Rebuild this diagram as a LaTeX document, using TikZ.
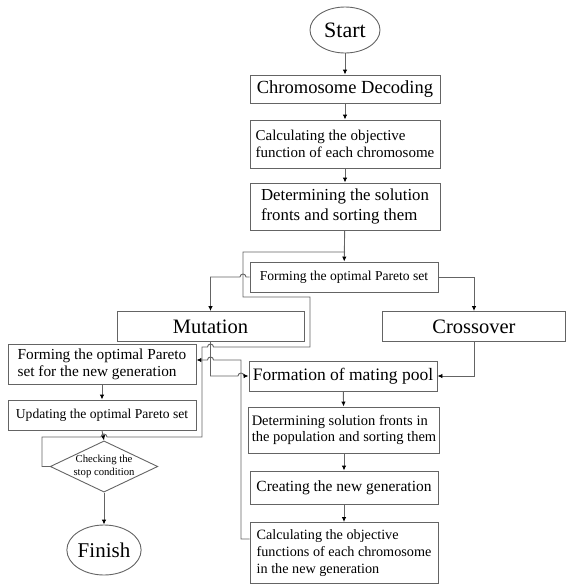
\documentclass[tikz,border=0pt]{standalone}
\usepackage{fontspec}
\setmainfont{Liberation Serif}
\usetikzlibrary{arrows.meta}
\usetikzlibrary{shapes.geometric}

\definecolor{linegray}{RGB}{100,100,100}

\begin{document}
\begin{tikzpicture}[x=1pt,y=-1pt,
    box/.style={draw=linegray, line width=0.9pt, rectangle, inner sep=3pt},
    oval/.style={draw=linegray, line width=0.9pt, ellipse, inner sep=0pt},
    flow/.style={draw=linegray, line width=0.9pt, -{Latex[length=5pt,width=4.5pt,color=black]}},
    loop/.style={draw=linegray, line width=0.9pt}]
  \useasboundingbox (0,0) rectangle (566,584);
  % main column
  \node[oval, minimum width=70pt, minimum height=46pt, font=\fontsize{22}{24}\selectfont] (start) at (345,30) {Start};
  \node[box, minimum width=190pt, minimum height=28pt, font=\fontsize{18.5}{20}\selectfont] (decode) at (345,89) {Chromosome Decoding};
  \node[box, minimum width=190pt, minimum height=48pt, align=left, font=\fontsize{15}{17}\selectfont] (calc) at (345,144) {Calculating the objective\\function of each chromosome};
  \node[box, minimum width=190pt, minimum height=47pt, align=left, font=\fontsize{16.8}{19.5}\selectfont] (fronts) at (345,206.5) {Determining the solution\\fronts and sorting them};
  \node[box, minimum width=188pt, minimum height=30pt, font=\fontsize{13.6}{15}\selectfont] (pareto) at (344,277) {Forming the optimal Pareto set};
  \node[box, minimum width=187pt, minimum height=30pt, font=\fontsize{20.5}{22}\selectfont] (mutation) at (210.5,326.5) {Mutation};
  \node[box, minimum width=183pt, minimum height=30pt, font=\fontsize{20.5}{22}\selectfont] (crossover) at (474,326.5) {Crossover};
  % left column
  \node[box, minimum width=188pt, minimum height=40pt, align=left, font=\fontsize{15.3}{17}\selectfont] (newpareto) at (102,364.5) {Forming the optimal Pareto\\set for the new generation};
  \node[box, minimum width=188pt, minimum height=30pt, font=\fontsize{13.6}{15}\selectfont] (update) at (102,415) {Updating the optimal Pareto set};
  \node[draw=linegray, line width=0.9pt, diamond, aspect=2.1, minimum width=100pt, minimum height=47pt, inner sep=0pt, align=center, font=\fontsize{10.7}{12.5}\selectfont] (check) at (104,466.5) {Checking the\\stop condition};
  \node[oval, minimum width=72pt, minimum height=50pt, font=\fontsize{21}{23}\selectfont] (finish) at (104,550) {Finish};
  % right column
  \node[box, minimum width=188pt, minimum height=30pt, font=\fontsize{17.5}{19}\selectfont] (pool) at (343,376) {Formation of mating pool};
  \node[box, minimum width=188pt, minimum height=46pt, align=left, font=\fontsize{14.5}{16.5}\selectfont] (popfronts) at (344,430) {Determining solution fronts in\\the population and sorting them};
  \node[box, minimum width=188pt, minimum height=33pt, font=\fontsize{15.5}{17}\selectfont] (newgen) at (344,487.5) {Creating the new generation};
  \node[box, minimum width=188pt, minimum height=61pt, align=left, font=\fontsize{14.2}{16.8}\selectfont] (objnew) at (344,553) {Calculating the objective\\functions of each chromosome\\in the new generation};

  \draw[flow] (start) -- (decode);
  \draw[flow] (decode) -- (calc);
  \draw[flow] (calc) -- (fronts);
  \draw[flow] (fronts) -- (pareto);
  \draw[flow] (pareto.west) -- (246,277) arc[start angle=0, end angle=180, radius=3pt] -| (mutation.north);
  \draw[flow] (pareto.east) -| (crossover.north);
  \draw[flow] (mutation.south) |- (238,376) arc[start angle=180, end angle=0, radius=3pt] -- (pool.west);
  \draw[flow] (crossover.south) |- (pool.east);
  \draw[flow] (pool) -- (popfronts);
  \draw[flow] (popfronts) -- (newgen);
  \draw[flow] (newgen) -- (objnew);
  \draw[flow] (objnew.west |- 0,539) -| (241,360) -- (213.5,360) arc[start angle=0, end angle=180, radius=3pt] -- (newpareto.east |- 0,360);
  \draw[flow] (newpareto) -- (update);
  \draw[flow] (update.south) -- (check.north);
  \draw[flow] (check) -- (finish);
  % stop condition not met
  \draw[loop] (check.west) -| (42,437) -- (101,437) arc[start angle=180, end angle=0, radius=3pt] -- (202,437) |- (207.5,347) arc[start angle=180, end angle=0, radius=3pt] -- (310,347) |- (243,297) |- (fronts.south |- 0,252);
\end{tikzpicture}
\end{document}
